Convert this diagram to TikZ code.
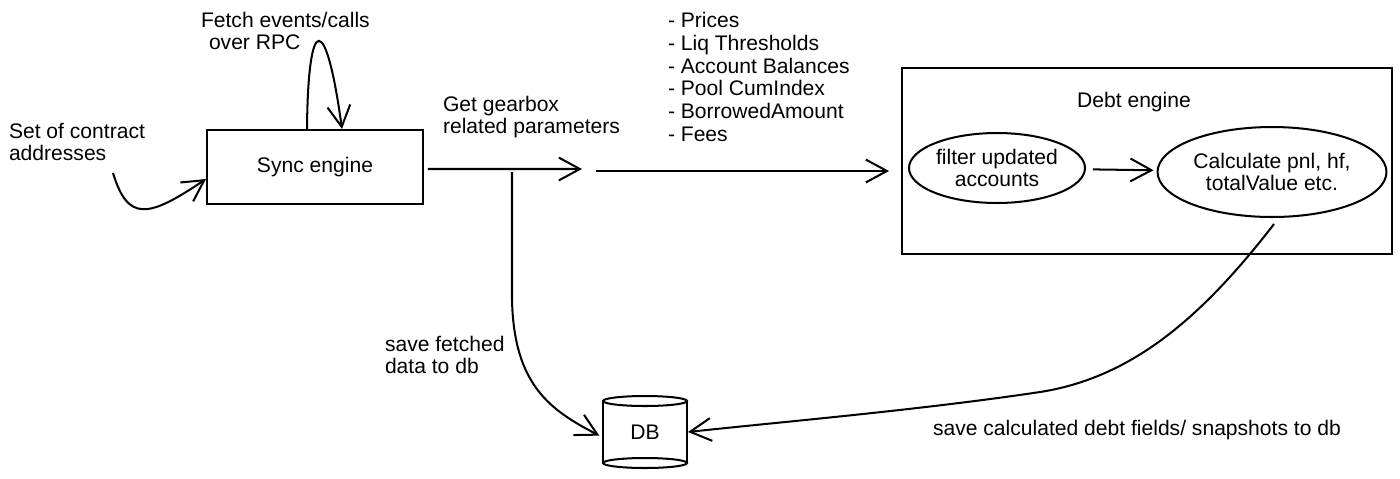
\documentclass[tikz,border=0pt]{standalone}
\usepackage{fontspec}
\setmainfont{Liberation Sans}
\usetikzlibrary{arrows.meta,shapes.geometric,calc}
\begin{document}
\begin{tikzpicture}[x=0.02cm,y=-0.02cm, line width=1.15pt,
  font=\fontsize{12}{13}\selectfont,
  arr/.style={-{Straight Barb[length=12pt,width=13pt,line width=1.15pt]}},
  lbl/.style={inner sep=0pt, align=left, anchor=west},
  boxnode/.style={draw, rectangle, inner sep=0pt},
  ell/.style={draw, ellipse, inner sep=0pt, align=center}]
\useasboundingbox (0,0) rectangle (1400,478);
\fill[white] (0,0) rectangle (1400,478);

% nodes
\node[boxnode, minimum width=4.32cm, minimum height=1.48cm] (sync) at (315,167) {Sync engine};
\node[boxnode, minimum width=9.8cm, minimum height=3.72cm] (debt) at (1147,161) {};
\node[inner sep=0pt] (debtlbl) at (1134,102) {Debt engine};
\node[ell, minimum width=3.52cm, minimum height=1.4cm] (filter) at (997,168) {filter updated\\accounts};
\node[ell, minimum width=4.58cm, minimum height=1.8cm] (calc) at (1272,172) {Calculate pnl, hf,\\totalValue etc.};
\node[minimum width=1.68cm, minimum height=1.4cm, inner sep=0pt] (db) at (645,432) {DB};
% cylinder shape of DB
\draw (645,401) ellipse [x radius=0.84cm, y radius=0.1cm];
\draw (645,463) ellipse [x radius=0.84cm, y radius=0.1cm];
\draw (603,401) -- (603,463);
\draw (687,401) -- (687,463);

% labels
\node[lbl] (setlbl) at (8,142) {Set of contract\\addresses};
\node[lbl] (fetchlbl) at (200,31) {Fetch events/calls\\\hspace{0.16cm}over RPC};
\node[lbl] (getlbl) at (442,117) {Get gearbox\\related parameters};
\node[lbl] (list) at (667,77) {- Prices\\- Liq Thresholds\\- Account Balances\\- Pool CumIndex\\- BorrowedAmount\\- Fees};
\node[lbl] (savelbl) at (384,355) {save fetched\\data to db};
\node[lbl] (save2) at (932,430) {save calculated debt fields/ snapshots to db};

% connectors
\coordinate (setstart) at (113,173);
\draw[arr] (setstart) .. controls (128,222) and (148,218) .. ([yshift=-0.24cm]sync.west);

\draw[arr] ([xshift=-0.16cm]sync.north) .. controls (308,12) and (326,12) .. ([xshift=0.54cm]sync.north);

\coordinate (gmid) at (582,169);
\draw[arr] ([yshift=-0.04cm,xshift=0.08cm]sync.east) -- (gmid);
\coordinate (gstart) at (596,171);
\draw[arr, shorten >=0.24cm] (gstart) -- (gstart -| debt.west);

\draw[arr, shorten <=0.14cm, shorten >=0.06cm] (filter) -- (calc);

\coordinate (branch) at (512,172);
\draw[arr, shorten >=0.06cm] (branch) -- (512,300) .. controls (514,385) and (550,410) .. ([yshift=-0.1cm]db.west);

\draw[arr] ([shift={(0.04cm,-0.12cm)}]calc.south) .. controls (1200,320) and (1130,378) .. (1040,392) .. controls (920,410) and (780,422) .. (db.east);
\end{tikzpicture}
\end{document}
